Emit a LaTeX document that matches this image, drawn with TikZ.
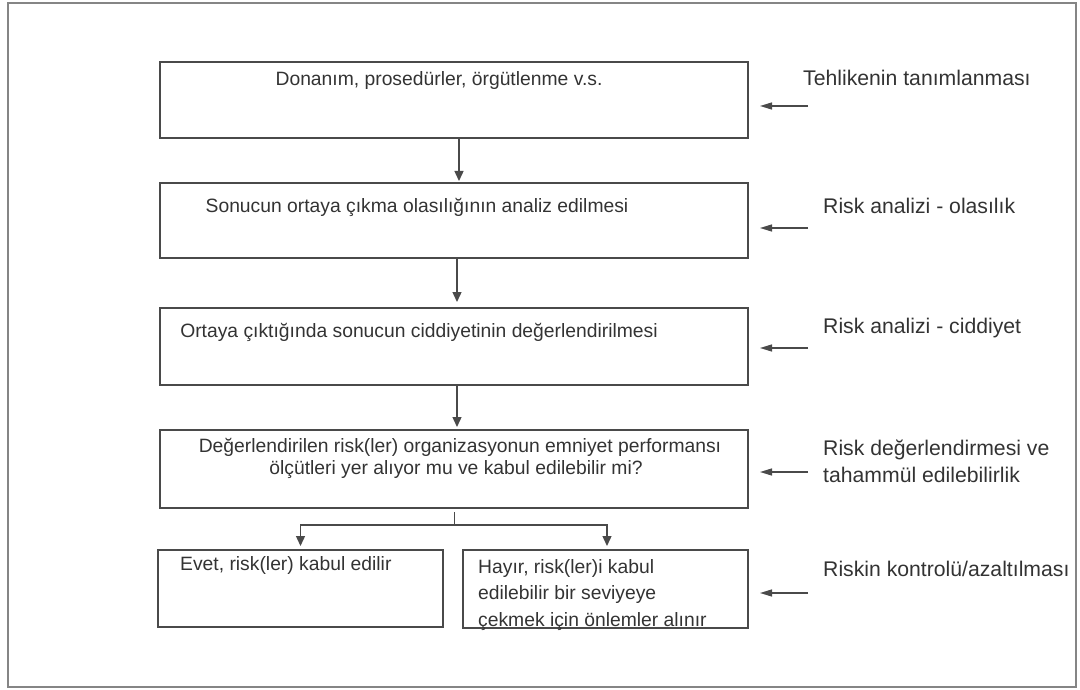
\documentclass[tikz,border=0pt]{standalone}
\usepackage{fontspec}
\setmainfont{Liberation Sans}
\usetikzlibrary{arrows.meta}

\definecolor{ink}{HTML}{333333}
\definecolor{rule}{HTML}{4A4A4A}
\definecolor{frame}{HTML}{858585}

\tikzset{
  stepbox/.style={draw=rule, line width=1.5pt, rectangle, inner sep=0pt, outer sep=0pt},
  boxtext/.style={inner sep=0pt, text=ink, font=\fontsize{19.3}{23}\selectfont},
  sidetext/.style={inner sep=0pt, text=ink, anchor=base west, font=\fontsize{21.2}{25}\selectfont},
  flow/.style={draw=rule, line width=1.4pt, -{Triangle[width=9pt,length=10pt]}},
  feed/.style={draw=rule, line width=1.3pt, -{Triangle[width=7pt,length=12pt]}, shorten >=12pt},
  stub/.style={draw=rule, line width=0.8pt},
}

\begin{document}
\begin{tikzpicture}[x=1pt,y=-1pt]
  \useasboundingbox (0,0) rectangle (1080,690);
  % outer frame
  \draw[frame, line width=2pt] (8,3) rectangle (1076,687);

  % process boxes
  \node[stepbox, minimum width=588pt, minimum height=76pt] (b1) at (454,100) {};
  \node[stepbox, minimum width=588pt, minimum height=75pt] (b2) at (454,220.5) {};
  \node[stepbox, minimum width=588pt, minimum height=77pt] (b3) at (454,346.5) {};
  \node[stepbox, minimum width=588pt, minimum height=78pt] (b4) at (454,469) {};
  \node[stepbox, minimum width=285pt, minimum height=77pt] (b5) at (300.5,588.5) {};
  \node[stepbox, minimum width=285pt, minimum height=78pt] (b6) at (605.5,589) {};

  % box texts
  \node[boxtext, anchor=base] (t1) at (439,86) {Donanım, prosedürler, örgütlenme v.s.};
  \node[boxtext, anchor=base] (t2) at (417,212) {Sonucun ortaya çıkma olasılığının analiz edilmesi};
  \node[boxtext, anchor=base] (t3) at (419,337) {Ortaya çıktığında sonucun ciddiyetinin değerlendirilmesi};
  \node[boxtext, anchor=base] (t4a) at (460,452) {Değerlendirilen risk(ler) organizasyonun emniyet performansı};
  \node[boxtext, anchor=base] (t4b) at (456,474) {ölçütleri yer alıyor mu ve kabul edilebilir mi?};
  \node[boxtext, anchor=base west] (t5) at (180,570) {Evet, risk(ler) kabul edilir};
  \node[boxtext, anchor=base west] (t6a) at (478,573) {Hayır, risk(ler)i kabul};
  \node[boxtext, anchor=base west] (t6b) at (478,599) {edilebilir bir seviyeye};
  \node[boxtext, anchor=base west] (t6c) at (478,626) {çekmek için önlemler alınır};

  % flow between the steps
  \draw[flow, shorten >=2pt] ([xshift=5pt]b1.south) -- ([xshift=5pt]b2.north);
  \draw[flow, shorten >=6pt] ([xshift=3pt]b2.south) -- ([xshift=3pt]b3.north);
  \draw[flow, shorten >=3pt] ([xshift=3pt]b3.south) -- ([xshift=3pt]b4.north);

  % branching to the two outcomes
  \coordinate (split) at (454,525);
  \draw[stub] ([yshift=-4pt]b4.south) -- (split);
  \draw[flow, shorten >=4pt] (split) -| (b5.north);
  \draw[flow, shorten >=4pt] (split) -| ([xshift=1.5pt]b6.north);

  % stage labels on the right
  \node[sidetext] (l1) at (803,86) {Tehlikenin tanımlanması};
  \node[sidetext] (l2) at (823,214) {Risk analizi - olasılık};
  \node[sidetext] (l3) at (823,333) {Risk analizi - ciddiyet};
  \node[sidetext] (l4a) at (823,455) {Risk değerlendirmesi ve};
  \node[sidetext] (l4b) at (823,482) {tahammül edilebilirlik};
  \node[sidetext] (l5) at (823,576) {Riskin kontrolü/azaltılması};

  % pointers from the labels to the boxes
  \coordinate (p1) at (808,106);
  \coordinate (p2) at (808,228);
  \coordinate (p3) at (808,348);
  \coordinate (p4) at (808,472);
  \coordinate (p5) at (808,593);
  \draw[feed] (p1) -- (b1.east |- p1);
  \draw[feed] (p2) -- (b2.east |- p2);
  \draw[feed] (p3) -- (b3.east |- p3);
  \draw[feed] (p4) -- (b4.east |- p4);
  \draw[feed] (p5) -- (b6.east |- p5);
\end{tikzpicture}
\end{document}
